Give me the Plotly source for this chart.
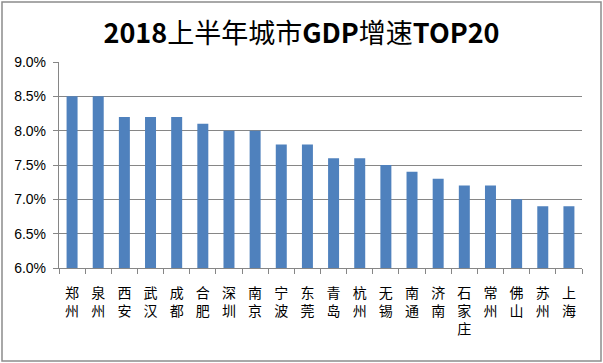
import plotly.graph_objects as go

cities = ["郑州", "泉州", "西安", "武汉", "成都", "合肥", "深圳", "南京", "宁波", "东莞",
          "青岛", "杭州", "无锡", "南通", "济南", "石家庄", "常州", "佛山", "苏州", "上海"]
growth = [8.5, 8.5, 8.2, 8.2, 8.2, 8.1, 8.0, 8.0, 7.8, 7.8,
          7.6, 7.6, 7.5, 7.4, 7.3, 7.2, 7.2, 7.0, 6.9, 6.9]
y_ticks = [6.0, 6.5, 7.0, 7.5, 8.0, 8.5, 9.0]
y_tick_labels = ["6.0%", "6.5%", "7.0%", "7.5%", "8.0%", "8.5%", "9.0%"]

stacked = ["<br>".join(list(c)) for c in cities]

fig = go.Figure(go.Bar(
    x=stacked, y=growth, marker=dict(color="#4F81BD", line=dict(width=0)),
    width=0.42,
))

fig.update_layout(
    width=603, height=363,
    margin=dict(l=59, r=21, t=62, b=95),
    paper_bgcolor="white", plot_bgcolor="white",
    title=dict(text="<b>2018</b>上半年城市<b>GDP</b>增速<b>TOP20</b>", x=0.5, xanchor="center",
               y=1 - 34 / 363, yanchor="middle",
               font=dict(family="Noto Sans CJK SC", size=27, color="black")),
    showlegend=False,
    shapes=[dict(type="rect", xref="paper", yref="paper",
                 x0=-57 / 523, x1=1 + 19 / 523, y0=-93 / 206, y1=1 + 60 / 206,
                 line=dict(color="#8C8C8C", width=1.5), fillcolor="rgba(0,0,0,0)")],
)

fig.update_xaxes(
    type="category", showline=True, linecolor="#868686", linewidth=1.3,
    ticks="outside", tickson="boundaries", ticklen=5, tickcolor="#868686",
    tickangle=0, showgrid=False, ticklabelstandoff=12,
    tickfont=dict(family="Noto Sans CJK SC", size=14, color="black"),
)
fig.update_yaxes(
    range=[6.0, 9.0], tickvals=y_ticks, ticktext=y_tick_labels,
    showline=True, linecolor="#868686", linewidth=1.3,
    ticks="outside", ticklen=5, tickcolor="#868686", ticklabelstandoff=4,
    showgrid=True, gridcolor="#868686", gridwidth=1.3,
    tickfont=dict(family="Liberation Sans", size=14, color="black"),
)

fig.write_html("out.html", config={"displayModeBar": False},
               post_script="document.body.style.margin='0';document.body.style.overflow='hidden';")
